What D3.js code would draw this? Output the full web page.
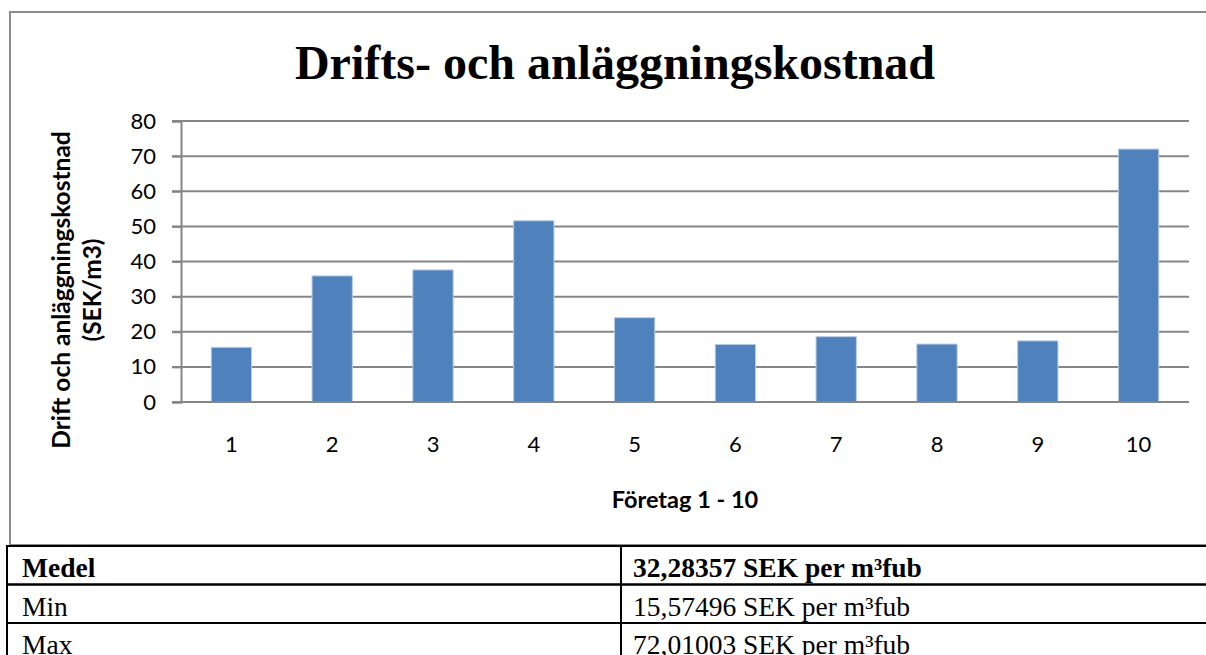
<!DOCTYPE html>
<html>
<head>
<meta charset="utf-8">
<script src="https://cdn.jsdelivr.net/npm/d3@7"></script>
<style>
  body { margin: 0; background: #fff; }
  svg { display: block; }
</style>
</head>
<body>
<div class="chart"></div>
<script>
// data
var companies = ["1", "2", "3", "4", "5", "6", "7", "8", "9", "10"];
var costs = [15.57, 35.9, 37.6, 51.6, 24.0, 16.4, 18.6, 16.5, 17.4, 72.01];
var yTicks = [0, 10, 20, 30, 40, 50, 60, 70, 80];
var statLabels = ["Medel", "Min", "Max"];
var statValues = ["32,28357 SEK per m³fub", "15,57496 SEK per m³fub", "72,01003 SEK per m³fub"];

var width = 1206, height = 655;
var plot = { left: 181, right: 1189, top: 121, bottom: 402 };
var gray = "#868686";
var labelFont = "Lato, 'Open Sans', sans-serif";
var serif = "'Liberation Serif', 'Times New Roman', serif";

var svg = d3.select(".chart").append("svg")
  .attr("width", width)
  .attr("height", height);

// chart frame
svg.append("rect")
  .attr("x", 10).attr("y", 12)
  .attr("width", 1210).attr("height", 533)
  .attr("fill", "#fff")
  .attr("stroke", "#8c8c8c")
  .attr("stroke-width", 2);

svg.append("text")
  .attr("x", 615).attr("y", 79)
  .attr("text-anchor", "middle")
  .attr("font-family", serif)
  .attr("font-weight", "bold")
  .attr("font-size", 48)
  .text("Drifts- och anläggningskostnad");

var x = d3.scaleBand()
  .domain(companies)
  .range([plot.left, plot.right])
  .paddingInner(0.6)
  .paddingOuter(0.3);

var y = d3.scaleLinear()
  .domain([0, 80])
  .range([plot.bottom, plot.top]);

// gridlines
svg.append("g")
  .selectAll("line")
  .data(yTicks)
  .enter()
  .append("line")
  .attr("x1", plot.left - 9)
  .attr("x2", plot.right)
  .attr("y1", function(d) { return y(d); })
  .attr("y2", function(d) { return y(d); })
  .attr("stroke", gray)
  .attr("stroke-width", 2);

var yAxis = svg.append("g")
  .attr("transform", "translate(" + plot.left + ",0)")
  .call(d3.axisLeft(y).tickValues(yTicks).tickSize(9).tickPadding(16));
yAxis.select(".domain").attr("stroke", gray).attr("stroke-width", 2);
yAxis.selectAll(".tick line").attr("stroke", gray).attr("stroke-width", 2);
yAxis.selectAll("text")
  .attr("font-family", labelFont)
  .attr("font-size", 22)
  .attr("fill", "#000");

svg.append("g")
  .selectAll("rect")
  .data(costs)
  .enter()
  .append("rect")
  .attr("x", function(d, i) { return x(companies[i]); })
  .attr("y", function(d) { return y(d); })
  .attr("width", x.bandwidth())
  .attr("height", function(d) { return y(0) - y(d); })
  .attr("fill", "#4f81bd")
  .attr("stroke", "#b9cde5")
  .attr("stroke-width", 1);

var xAxis = svg.append("g")
  .attr("transform", "translate(0," + plot.bottom + ")")
  .call(d3.axisBottom(x).tickSize(0).tickPadding(34));
xAxis.select(".domain").remove();
xAxis.selectAll("text")
  .attr("font-family", labelFont)
  .attr("font-size", 22)
  .attr("fill", "#000");

svg.append("line")
  .attr("x1", plot.left).attr("x2", plot.right)
  .attr("y1", plot.bottom).attr("y2", plot.bottom)
  .attr("stroke", gray).attr("stroke-width", 2);

svg.append("text")
  .attr("x", 685).attr("y", 508)
  .attr("text-anchor", "middle")
  .attr("font-family", labelFont)
  .attr("font-weight", "bold")
  .attr("font-size", 23.5)
  .text("Företag 1 - 10");

var yTitle = svg.append("text")
  .attr("transform", "translate(0,290) rotate(-90)")
  .attr("text-anchor", "middle")
  .attr("font-family", labelFont)
  .attr("font-weight", "bold")
  .attr("font-size", 24.5);
yTitle.append("tspan").attr("x", 0).attr("y", 70).text("Drift och anläggningskostnad");
yTitle.append("tspan").attr("x", 0).attr("y", 101).text("(SEK/m3)");

// stats table under the chart
var rowTop = 546, rowH = 38.5, colX = 621;
var rows = svg.append("g")
  .selectAll("g")
  .data(statLabels)
  .enter()
  .append("g")
  .attr("transform", function(d, i) { return "translate(0," + (rowTop + i * rowH) + ")"; });

rows.append("rect")
  .attr("x", 7).attr("y", 0)
  .attr("width", 1220).attr("height", rowH)
  .attr("fill", "none")
  .attr("stroke", "#000")
  .attr("stroke-width", 2);

rows.append("line")
  .attr("x1", colX).attr("x2", colX)
  .attr("y1", 0).attr("y2", rowH)
  .attr("stroke", "#000")
  .attr("stroke-width", 2);

rows.append("text")
  .attr("x", 22).attr("y", 31)
  .attr("font-family", serif)
  .attr("font-size", 27.5)
  .attr("font-weight", function(d, i) { return i === 0 ? "bold" : "normal"; })
  .text(function(d) { return d; });

rows.append("text")
  .attr("x", 633).attr("y", 31)
  .attr("font-family", serif)
  .attr("font-size", 27.5)
  .attr("font-weight", function(d, i) { return i === 0 ? "bold" : "normal"; })
  .text(function(d, i) { return statValues[i]; });
</script>
</body>
</html>
